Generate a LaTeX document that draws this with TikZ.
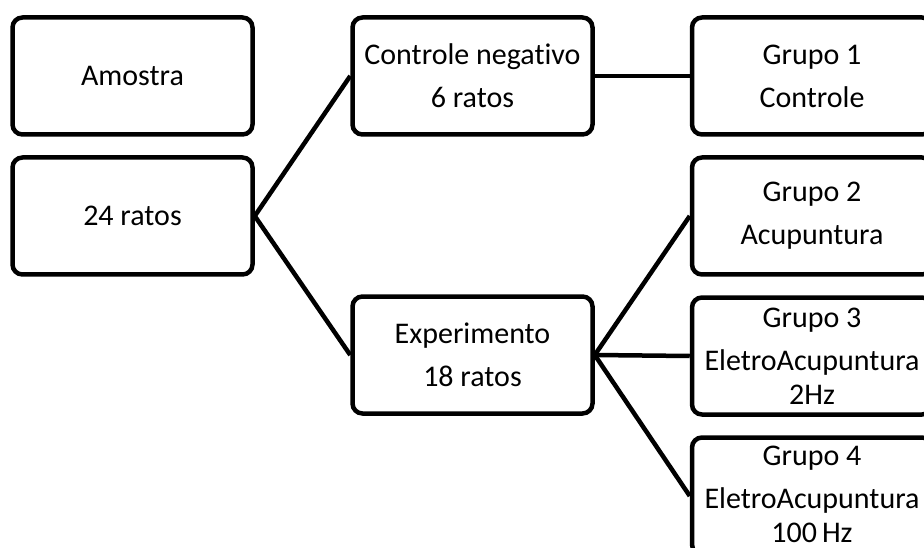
\documentclass[tikz,border=0pt]{standalone}
\usepackage{fontspec}
\setmainfont[Ligatures=NoCommon]{Carlito}
\begin{document}
\begin{tikzpicture}[x=1pt,y=-1pt,
  box/.style={draw=black, line width=4.5pt, rounded corners=10pt, fill=white,
    minimum width=240pt, minimum height=117pt, align=center, inner sep=0pt,
    font=\fontsize{30}{34}\selectfont},
  conn/.style={draw=black, line width=4.5pt}]
\useasboundingbox (0,0) rectangle (924,548);
\clip (0,0) rectangle (924,548);
\node[box] (amostra) at (132.5,76) {Amostra};
\node[box] (ratos) at (132.5,216) {24 ratos};
\node[box] (ctrl) at (472.5,76) {Controle negativo\\[9pt]6 ratos};
\node[box] (exp) at (472.5,355) {Experimento\\[9pt]18 ratos};
\node[box] (g1) at (812,76) {Grupo 1\\[9pt]Controle};
\node[box] (g2) at (812,216) {Grupo 2\\[9pt]Acupuntura};
\node[box] (g3) at (812,356) {Grupo 3\\[9pt]EletroAcupuntura\\2Hz};
\node[box] (g4) at (812,496) {Grupo 4\\[9pt]EletroAcupuntura\\100\,Hz\rule[-4pt]{0pt}{4pt}};
\draw[conn] (ratos.east) -- (ctrl.west);
\draw[conn] (ratos.east) -- (exp.west);
\draw[conn] (ctrl.east) -- (g1.west);
\draw[conn] (exp.east) -- (g2.west);
\draw[conn] (exp.east) -- (g3.west);
\draw[conn] (exp.east) -- (g4.west);
\end{tikzpicture}
\end{document}
